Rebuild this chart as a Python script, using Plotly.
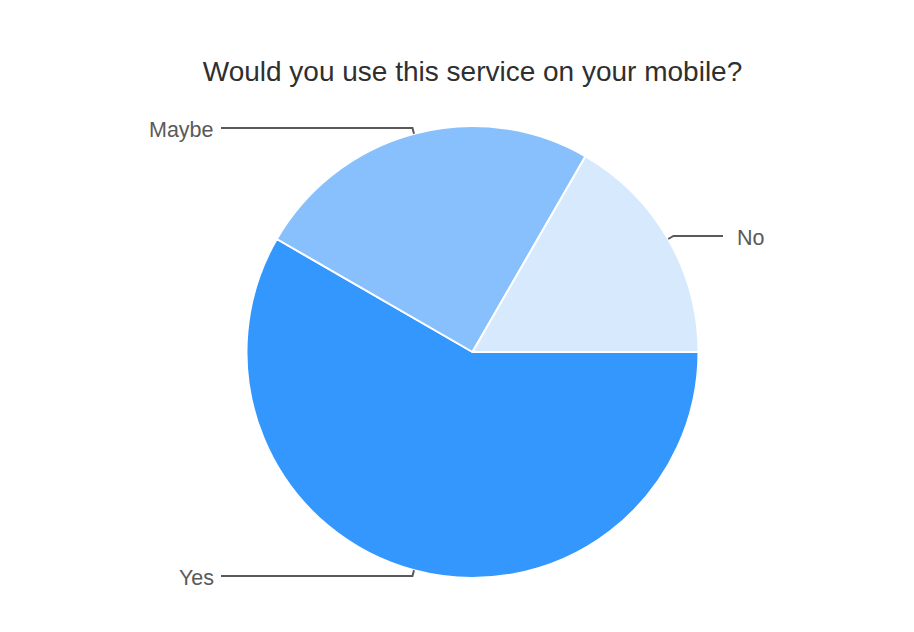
import math
import plotly.graph_objects as go

# ---- data ----
labels = ["Yes", "Maybe", "No"]
values = [7, 3, 2]
colors = ["#3497fd", "#87c0fd", "#d7e9fd"]
title_text = "Would you use this service on your mobile?"

# ---- layout constants (pixels) ----
W, H = 914, 632
CX, CY, R = 472.5, 352.0, 226.0
START_DEG = 0.0          # 3 o'clock, slices go clockwise
LEFT_LINE_X, RIGHT_LINE_X = 221.0, 723.0
TEXT_GAP = 5.0
FONT = "Liberation Sans, Arial, sans-serif"

def px(x):
    return x / W

def py(y):
    return 1 - y / H

fig = go.Figure(go.Pie(
    labels=labels, values=values, sort=False, direction="clockwise",
    rotation=90, textinfo="none", hoverinfo="label+value+percent",
    marker=dict(colors=colors, line=dict(color="white", width=2)),
    domain=dict(x=[px(CX - R), px(CX + R)], y=[py(CY + R), py(CY - R)]),
    showlegend=False,
))

shapes, annotations = [], []
total = sum(values)
acc = 0.0
for lab, v in zip(labels, values):
    mid = START_DEG - 360.0 * (acc + v / 2) / total
    acc += v
    th = math.radians(mid)
    ux, uy = math.cos(th), -math.sin(th)
    ex, ey = CX + R * ux, CY + R * uy
    bx, by = ex + 6 * ux, ey + 6 * uy
    right = ux > 0
    lx = RIGHT_LINE_X if right else LEFT_LINE_X
    path = f"M {px(ex)},{py(ey)} L {px(bx)},{py(by)} L {px(lx)},{py(by)}"
    shapes.append(dict(type="path", xref="paper", yref="paper", path=path,
                       line=dict(color="#595959", width=2)))
    annotations.append(dict(
        text=lab, xref="paper", yref="paper", showarrow=False,
        x=px(lx + (TEXT_GAP + 7 if right else -TEXT_GAP)), y=py(by + 2),
        xanchor="left" if right else "right", yanchor="middle",
        font=dict(family=FONT, size=21.5, color="#5a5a5a")))

fig.update_layout(
    width=W, height=H, margin=dict(l=0, r=0, t=0, b=0),
    paper_bgcolor="white", plot_bgcolor="white",
    title=dict(text=title_text, x=px(CX), xanchor="center",
               y=py(71), yanchor="middle", yref="container",
               font=dict(family=FONT, size=28, color="#2f2f2f")),
    shapes=shapes, annotations=annotations,
)

fig.write_html("out.html")
